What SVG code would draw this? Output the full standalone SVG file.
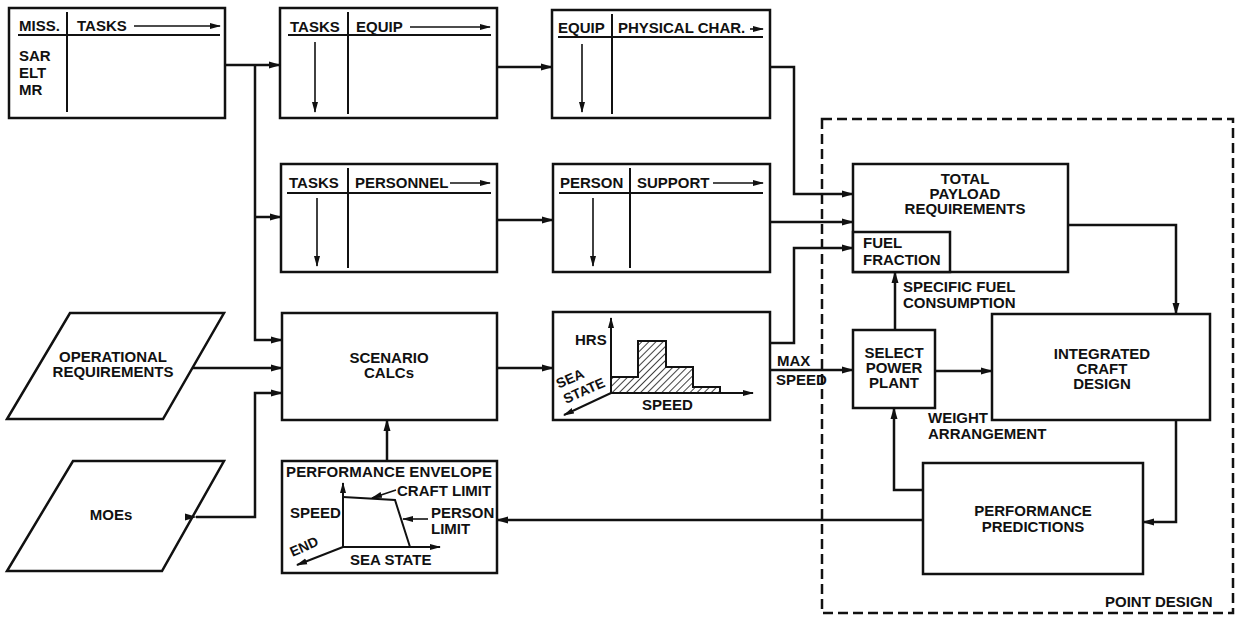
<svg xmlns="http://www.w3.org/2000/svg" width="1236" height="618" viewBox="0 0 1236 618">
<defs>
<marker id="ah" markerUnits="userSpaceOnUse" markerWidth="12" markerHeight="8" refX="11" refY="4" orient="auto">
<path d="M0,0.5 L12,4 L0,7.5 z" fill="#111"/>
</marker>
<marker id="as" markerUnits="userSpaceOnUse" markerWidth="11" markerHeight="7" refX="10" refY="3.5" orient="auto">
<path d="M0,0.5 L11,3.5 L0,6.5 z" fill="#111"/>
</marker>
<pattern id="hatch" patternUnits="userSpaceOnUse" width="5" height="5" patternTransform="rotate(45)">
<line x1="0" y1="0" x2="0" y2="5" stroke="#111" stroke-width="1.6"/>
</pattern>
<style>
.box{fill:#fff;stroke:#111;stroke-width:2.5}
.ln{fill:none;stroke:#111;stroke-width:2.5}
.th{fill:none;stroke:#111;stroke-width:1.6}
.dv{fill:none;stroke:#111;stroke-width:2}
.t{font-family:"Liberation Sans",Arial,Helvetica,sans-serif;font-weight:bold;font-size:15px;fill:#111}
.s{font-size:14px}
.c{text-anchor:middle}
</style>
</defs>
<rect width="1236" height="618" fill="#fff"/>

<g id="point-design">
<rect x="822" y="119" width="411" height="494" fill="none" stroke="#111" stroke-width="2.5" stroke-dasharray="10,5"/>
<text class="t" x="1105" y="607">POINT DESIGN</text>
</g>

<g id="miss-tasks">
<rect class="box" x="9" y="8" width="216" height="110"/>
<line class="dv" x1="67" y1="12" x2="67" y2="112"/>
<line class="dv" x1="18" y1="35" x2="220" y2="35"/>
<text class="t" x="19" y="31">MISS.</text>
<text class="t" x="77" y="31">TASKS</text>
<line class="th" x1="134" y1="26" x2="220" y2="26" marker-end="url(#as)"/>
<text class="t" x="19" y="61">SAR</text>
<text class="t" x="19" y="78">ELT</text>
<text class="t" x="19" y="95">MR</text>
</g>

<g id="tasks-equip">
<rect class="box" x="280" y="8" width="217" height="110"/>
<line class="dv" x1="348" y1="12" x2="348" y2="114"/>
<line class="dv" x1="288" y1="35" x2="491" y2="35"/>
<text class="t" x="290" y="32">TASKS</text>
<text class="t" x="356" y="32">EQUIP</text>
<line class="th" x1="410" y1="27" x2="490" y2="27" marker-end="url(#as)"/>
<line class="th" x1="315" y1="42" x2="315" y2="112" marker-end="url(#as)"/>
</g>

<g id="equip-physical">
<rect class="box" x="552" y="10" width="218" height="108"/>
<line class="dv" x1="612" y1="14" x2="612" y2="114"/>
<line class="dv" x1="558" y1="37" x2="763" y2="37"/>
<text class="t" x="558" y="33">EQUIP</text>
<text class="t" x="618" y="33">PHYSICAL CHAR.</text>
<line class="th" x1="750" y1="29" x2="763" y2="29" marker-end="url(#as)"/>
<line class="th" x1="582" y1="44" x2="582" y2="112" marker-end="url(#as)"/>
</g>

<g id="tasks-personnel">
<rect class="box" x="281" y="164" width="216" height="108"/>
<line class="dv" x1="348" y1="168" x2="348" y2="268"/>
<line class="dv" x1="287" y1="193" x2="491" y2="193"/>
<text class="t" x="289" y="188">TASKS</text>
<text class="t" x="355" y="188">PERSONNEL</text>
<line class="th" x1="450" y1="183" x2="490" y2="183" marker-end="url(#as)"/>
<line class="th" x1="317" y1="198" x2="317" y2="266" marker-end="url(#as)"/>
</g>

<g id="person-support">
<rect class="box" x="553" y="164" width="217" height="108"/>
<line class="dv" x1="630" y1="168" x2="630" y2="268"/>
<line class="dv" x1="559" y1="193" x2="763" y2="193"/>
<text class="t" x="560" y="188">PERSON</text>
<text class="t" x="637" y="188">SUPPORT</text>
<line class="th" x1="713" y1="183" x2="763" y2="183" marker-end="url(#as)"/>
<line class="th" x1="593" y1="198" x2="593" y2="266" marker-end="url(#as)"/>
</g>

<g id="operational-requirements">
<polygon class="box" points="70,313 224,313 163,419 7,419"/>
<text class="t c" x="113" y="362">OPERATIONAL</text>
<text class="t c" x="113" y="377">REQUIREMENTS</text>
</g>

<g id="moes">
<polygon class="box" points="73,461 224,461 162,571 7,571"/>
<text class="t c" x="111" y="520">MOEs</text>
</g>

<g id="scenario-calcs">
<rect class="box" x="282" y="313" width="215" height="107"/>
<text class="t c" x="389" y="363">SCENARIO</text>
<text class="t c" x="389" y="378">CALCs</text>
</g>

<g id="histogram">
<rect class="box" x="553" y="312" width="217" height="108"/>
<path d="M611,393 V377 H638 V341 H666 V367 H693 V387 H720 V393 Z" fill="url(#hatch)" stroke="#111" stroke-width="2"/>
<line class="dv" x1="611" y1="393" x2="611" y2="318" marker-end="url(#as)"/>
<line class="dv" x1="611" y1="393" x2="753" y2="393" marker-end="url(#as)"/>
<line class="dv" x1="611" y1="393" x2="564" y2="415" marker-end="url(#as)"/>
<text class="t" x="575" y="345">HRS</text>
<text class="t s c" transform="translate(572,383) rotate(-24)">SEA</text>
<text class="t s c" transform="translate(586,395) rotate(-24)">STATE</text>
<text class="t" x="642" y="410">SPEED</text>
</g>

<g id="performance-envelope">
<rect class="box" x="282" y="461" width="215" height="112"/>
<text class="t" x="286" y="477" textLength="206">PERFORMANCE ENVELOPE</text>
<line class="dv" x1="343" y1="547" x2="343" y2="483" marker-end="url(#as)"/>
<line class="dv" x1="343" y1="547" x2="440" y2="547" marker-end="url(#as)"/>
<line class="dv" x1="343" y1="547" x2="297" y2="565" marker-end="url(#as)"/>
<path class="dv" d="M343,497 L395,500 L410,547"/>
<text class="t" x="397" y="496">CRAFT LIMIT</text>
<line class="th" x1="396" y1="490" x2="372" y2="498" marker-end="url(#as)"/>
<text class="t" x="290" y="518">SPEED</text>
<text class="t" x="431" y="518">PERSON</text>
<text class="t" x="431" y="534">LIMIT</text>
<line class="th" x1="428" y1="519" x2="403" y2="519" marker-end="url(#as)"/>
<text class="t s c" transform="translate(306,551) rotate(-24)">END</text>
<text class="t" x="350" y="565">SEA STATE</text>
</g>

<g id="total-payload">
<rect class="box" x="853" y="164" width="215" height="108"/>
<text class="t c" x="965" y="184">TOTAL</text>
<text class="t c" x="965" y="199">PAYLOAD</text>
<text class="t c" x="965" y="214">REQUIREMENTS</text>
</g>

<g id="fuel-fraction">
<rect class="box" x="853" y="232" width="97" height="40"/>
<text class="t" x="863" y="248">FUEL</text>
<text class="t" x="863" y="265">FRACTION</text>
</g>

<g id="select-power-plant">
<rect class="box" x="853" y="330" width="82" height="78"/>
<text class="t c" x="894" y="358">SELECT</text>
<text class="t c" x="894" y="373">POWER</text>
<text class="t c" x="894" y="388">PLANT</text>
</g>

<g id="integrated-craft-design">
<rect class="box" x="992" y="314" width="218" height="106"/>
<text class="t c" x="1102" y="359">INTEGRATED</text>
<text class="t c" x="1102" y="374">CRAFT</text>
<text class="t c" x="1102" y="389">DESIGN</text>
</g>

<g id="performance-predictions">
<rect class="box" x="923" y="463" width="220" height="111"/>
<text class="t c" x="1033" y="516">PERFORMANCE</text>
<text class="t c" x="1033" y="532">PREDICTIONS</text>
</g>

<g id="connectors">
<path class="ln" d="M225,65 H280" marker-end="url(#ah)"/>
<path class="ln" d="M255,65 V340 H282" marker-end="url(#ah)"/>
<path class="ln" d="M255,217 H281" marker-end="url(#ah)"/>
<path class="ln" d="M497,67 H552" marker-end="url(#ah)"/>
<path class="ln" d="M770,67 H794 V194 H853" marker-end="url(#ah)"/>
<path class="ln" d="M497,220 H553" marker-end="url(#ah)"/>
<path class="ln" d="M770,222 H853" marker-end="url(#ah)"/>
<path class="ln" d="M770,343 H794 V248 H853" marker-end="url(#ah)"/>
<path class="ln" d="M192,368 H282" marker-end="url(#ah)"/>
<path class="ln" d="M196,517 H255 V393 H282" marker-start="url(#ah)" marker-end="url(#ah)"/>
<path class="ln" d="M387,461 V420" marker-end="url(#ah)"/>
<path class="ln" d="M497,368 H553" marker-end="url(#ah)"/>
<path class="ln" d="M770,370 H853" marker-end="url(#ah)"/>
<path class="ln" d="M895,330 V272" marker-end="url(#ah)"/>
<path class="ln" d="M935,371 H992" marker-end="url(#ah)"/>
<path class="ln" d="M1068,225 H1176 V314" marker-end="url(#ah)"/>
<path class="ln" d="M1176,420 V522 H1143" marker-end="url(#ah)"/>
<path class="ln" d="M923,490 H894 V408" marker-end="url(#ah)"/>
<path class="ln" d="M923,520 H497" marker-end="url(#ah)"/>
<text class="t" x="777" y="366">MAX</text>
<text class="t" x="776" y="385">SPEED</text>
<text class="t" x="903" y="292">SPECIFIC FUEL</text>
<text class="t" x="903" y="308">CONSUMPTION</text>
<text class="t" x="928" y="423">WEIGHT</text>
<text class="t" x="928" y="439">ARRANGEMENT</text>
</g>
</svg>
